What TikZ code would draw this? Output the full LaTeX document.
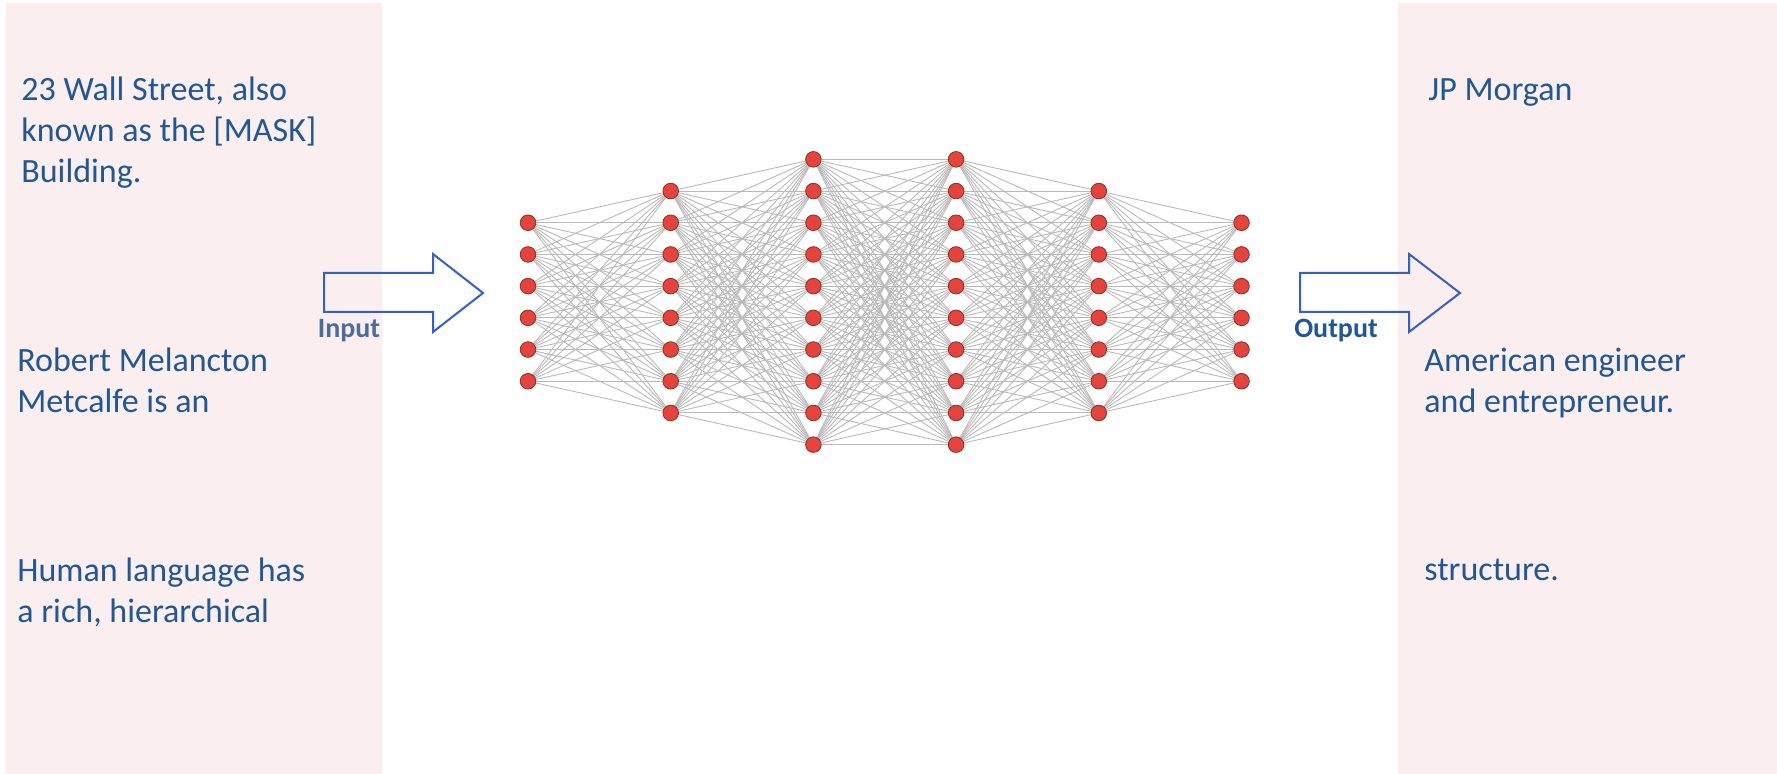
\documentclass[tikz,border=0pt]{standalone}
\usepackage{fontspec}
\setmainfont{Carlito}
\usetikzlibrary{backgrounds}
\definecolor{panelpink}{RGB}{250,238,238}
\definecolor{textblue}{RGB}{30,88,150}
\definecolor{inputblue}{RGB}{72,110,156}
\definecolor{arrowblue}{RGB}{47,96,208}
\definecolor{neuronred}{RGB}{232,67,58}
\definecolor{neuronrim}{RGB}{125,50,42}

\begin{document}
\begin{tikzpicture}[
        x=0.5pt, y=-0.5pt,
        panel/.style={fill=panelpink, draw=none},
        sentence/.style={
            anchor=base west,
            inner sep=0,
            align=left,
            text=textblue,
            font=\fontsize{17}{20.5}\selectfont
        },
        iolabel/.style={anchor=base, inner sep=0, font=\fontsize{14}{16}\selectfont\bfseries},
        neuron/.style={circle, draw=neuronrim, fill=neuronred, line width=0.4pt, minimum size=7.8pt, inner sep=0},
        synapse/.style={draw=gray!55, line width=0.45pt},
        blockarrow/.style={draw=arrowblue, line width=1pt, line join=miter}
    ]
    \useasboundingbox (0,0) rectangle (1777,774);

    % side panels
    \fill[panel] (6,3) rectangle (382,774);
    \fill[panel] (1398,3) rectangle (1777,774);

    % input sentences (placed at the baseline of the last line)
    \node[sentence] (in1) at (21,183) {23 Wall Street, also\\known as the [MASK]\\Building.};
    \node[sentence] (in2) at (17,413) {Robert Melancton\\Metcalfe is an};
    \node[sentence] (in3) at (17,622) {Human language has\\a rich, hierarchical};

    % predicted outputs
    \node[sentence] (out1) at (1428,101) {JP Morgan};
    \node[sentence] (out2) at (1424,413) {American engineer\\and entrepreneur.};
    \node[sentence] (out3) at (1424,581) {structure.};

    % block arrows
    \draw[blockarrow] (324,273) -- (433,273) -- (433,254) -- (483,293)
        -- (433,332) -- (433,312) -- (324,312) -- cycle;
    \draw[blockarrow] (1300,273) -- (1409,273) -- (1409,254) -- (1460,293)
        -- (1409,332) -- (1409,312) -- (1300,312) -- cycle;
    \node[iolabel, text=inputblue] (inlab) at (349,338) {Input};
    \node[iolabel, text=textblue] (outlab) at (1336,338) {Output};

    % network
    \foreach \n [count=\l] in {6,8,10,10,8,6} {
        \foreach \i in {1,...,\n} {
            \node[neuron] (n\l-\i) at ({528+142.7*(\l-1)}, {302+31.7*(\i-(\n+1)/2)}) {};
        }
    }
    \begin{scope}[on background layer]
        \foreach \a/\na/\b/\nb in {1/6/2/8, 2/8/3/10, 3/10/4/10, 4/10/5/8, 5/8/6/6}
            \foreach \i in {1,...,\na}
                \foreach \j in {1,...,\nb}
                    \draw[synapse] (n\a-\i) -- (n\b-\j);
    \end{scope}

\end{tikzpicture}
\end{document}
